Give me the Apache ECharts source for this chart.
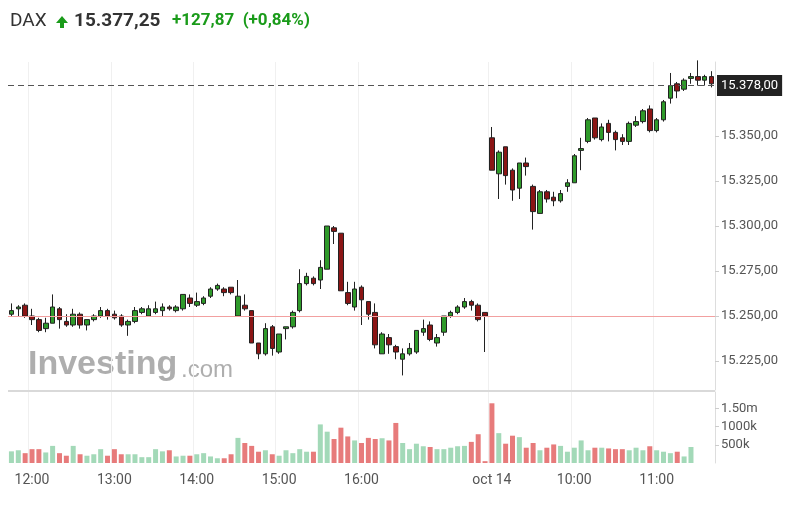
<!DOCTYPE html><html><head><meta charset="utf-8"><script src="https://cdn.jsdelivr.net/npm/echarts@6/dist/echarts.min.js"></script><style>body{margin:0}#c{width:794px;height:509px}</style></head><body><div id="c"></div><script>
// [open, close, low, high]
const ohlc=[[15251,15253,15250,15257],[15254,15255,15250,15256],[15256,15250,15249,15257],[15250,15248,15245,15254],[15248,15242,15241,15249],[15243,15246,15241,15249],[15246,15255,15246,15262],[15254,15248,15243,15255],[15247,15245,15244,15251],[15245,15251,15244,15254],
[15251,15245,15243,15252],[15245,15248,15242,15248],[15248,15250,15247,15251],[15250,15253,15249,15255],[15253,15250,15248,15254],[15251,15249,15248,15253],[15250,15245,15244,15251],[15245,15247,15239,15248],[15247,15253,15246,15255],[15252,15254,15251,15255],
[15250,15254,15250,15256],[15252,15254,15251,15258],[15253,15255,15250,15257],[15255,15254,15253,15256],[15253,15255,15252,15256],[15254,15262,15253,15262],[15260,15257,15255,15262],[15256,15258,15255,15263],[15257,15260,15256,15261],[15261,15265,15260,15266],
[15265,15267,15264,15268],[15265,15263,15261,15266],[15266,15263,15262,15266],[15250,15261,15250,15270],[15256,15254,15253,15262],[15253,15235,15235,15253],[15235,15229,15226,15235],[15229,15243,15228,15246],[15244,15232,15228,15245],[15230,15240,15229,15240],
[15243,15244,15237,15244],[15244,15252,15243,15253],[15253,15268,15252,15276],[15268,15272,15267,15274],[15271,15268,15267,15272],[15270,15277,15265,15281],[15276,15300,15276,15300],[15299,15297,15290,15300],[15296,15264,15264,15296],[15263,15257,15256,15269],
[15255,15265,15253,15269],[15266,15259,15245,15267],[15258,15251,15248,15258],[15252,15234,15232,15257],[15229,15240,15229,15241],[15238,15234,15229,15240],[15233,15230,15226,15234],[15226,15229,15217,15232],[15229,15232,15228,15235],[15230,15242,15229,15242],
[15241,15243,15239,15248],[15245,15237,15236,15247],[15235,15238,15233,15240],[15241,15250,15239,15250],[15250,15252,15249,15253],[15252,15255,15251,15256],[15255,15258,15254,15260],[15258,15256,15253,15259],[15256,15248,15247,15257],[15252,15250,15230,15252],
[15349,15331,15331,15355],[15329,15341,15315,15342],[15344,15328,15323,15344],[15331,15320,15314,15332],[15321,15335,15315,15335],[15335,15333,15328,15338],[15322,15308,15298,15323],[15307,15319,15307,15320],[15319,15315,15313,15320],[15316,15314,15311,15319],
[15314,15318,15313,15320],[15322,15324,15319,15326],[15324,15339,15324,15340],[15342,15343,15331,15349],[15347,15359,15346,15360],[15360,15349,15348,15360],[15348,15355,15347,15357],[15357,15352,15347,15359],[15352,15348,15342,15353],[15349,15347,15345,15351],
[15347,15357,15345,15358],[15356,15358,15355,15361],[15358,15364,15357,15365],[15365,15353,15352,15367],[15353,15359,15352,15360],[15359,15369,15358,15370],[15371,15378,15368,15385],[15379,15375,15371,15380],[15376,15381,15375,15382],[15382,15383,15379,15385],
[15383,15381,15378,15392],[15381,15383,15378,15384],[15383,15379,15377,15386]];
const volume=[320,350,270,380,380,290,470,270,200,470,240,200,240,380,200,380,240,240,240,160,160,380,320,350,180,200,200,240,270,180,130,130,240,690,550,470,
310,350,240,200,350,270,380,310,310,1060,860,660,970,730,620,550,690,660,680,620,1100,550,380,530,460,440,380,380,420,460,470,580,790,50,
1640,820,530,750,710,420,550,350,420,510,470,310,420,620,350,420,420,400,380,380,350,420,350,460,350,310,270,310,180,440,0,0,0];
const timeLabels={3:'12:00',15:'13:00',27:'14:00',39:'15:00',51:'16:00',70:'oct 14',82:'10:00',94:'11:00'};
const priceTicks=[15225,15250,15275,15300,15325,15350];
const volTicks=[500,1000,1500];
const lastPrice=15378, prevClose=15250;
const cats=ohlc.map((d,i)=>i);
const fmt=v=>v.toLocaleString('de-DE',{minimumFractionDigits:2,maximumFractionDigits:2});
const ch=echarts.init(document.getElementById('c'));
const xa=(gi,show)=>({type:'category',gridIndex:gi,data:cats,boundaryGap:true,axisLine:{show:false},axisTick:{show:false},
 axisLabel:{show:show,interval:(i)=>timeLabels[i]!==undefined,formatter:(v)=>timeLabels[v]||'',color:'#555',fontSize:14,fontFamily:'Roboto',margin:10},
 splitLine:{show:true,interval:(i)=>timeLabels[i]!==undefined,lineStyle:{color:'#f0f0f0'}}});
ch.setOption({animation:false,
 grid:[{left:8,right:79,top:62,height:328},{left:8,right:79,top:392,height:71}],
 xAxis:[xa(0,false),xa(1,true)],
 yAxis:[{type:'value',gridIndex:0,position:'right',min:15208.9,max:15391.1,axisLine:{show:true,lineStyle:{color:'#ddd'}},
   axisTick:{show:true,customValues:priceTicks,length:4,lineStyle:{color:'#ccc'}},axisLabel:{customValues:priceTicks,formatter:fmt,color:'#555',fontSize:13,fontFamily:'Roboto',margin:6},splitLine:{show:false}},
  {type:'value',gridIndex:1,position:'right',min:0,max:1950,axisLine:{show:true,lineStyle:{color:'#ddd'}},
   axisTick:{show:true,customValues:volTicks,length:4,lineStyle:{color:'#ccc'}},axisLabel:{customValues:volTicks,formatter:v=>v===1500?'1.50m':v+'k',color:'#555',fontSize:13,fontFamily:'Roboto',margin:6},splitLine:{show:false}}],
 graphic:[
  {type:'text',left:10,top:12,style:{text:'DAX',font:'19px Roboto',fill:'#333'}},
  {type:'polygon',shape:{points:[[62,16],[56,23],[60,23],[60,28],[64,28],[64,23],[68,23]]},style:{fill:'#1a9b1a'}},
  {type:'text',left:74,top:12,style:{text:'15.377,25',font:'bold 19px Roboto',fill:'#333'}},
  {type:'text',left:172,top:12,style:{text:'+127,87  (+0,84%)',font:'bold 17px Roboto',fill:'#1a9b1a'}},
  {type:'text',left:28,top:348,z:0,style:{text:'Investing',font:'bold 34px Arial',fill:'#9a9a9a',opacity:0.8}},
  {type:'text',left:181,top:358,z:0,style:{text:'.com',font:'24px Arial',fill:'#9a9a9a',opacity:0.8}},
  {type:'line',shape:{x1:8,y1:391,x2:715,y2:391},style:{stroke:'#ccc',lineWidth:1.5}}
 ],
 series:[{type:'candlestick',xAxisIndex:0,yAxisIndex:0,data:ohlc,barWidth:5,
   itemStyle:{color:'#2f9a2a',color0:'#8b1515',borderColor:'#222',borderColor0:'#222',borderWidth:1},
   markLine:{symbol:'none',silent:true,data:[
     {yAxis:lastPrice,lineStyle:{color:'#555',type:[6,4],width:1},label:{position:'end',formatter:fmt(lastPrice),backgroundColor:'#222',color:'#fff',fontSize:13,fontFamily:'Roboto',padding:[4,4],distance:2}},
     {yAxis:prevClose,lineStyle:{color:'#f2a0a0',type:'solid',width:1},label:{show:false}}]}},
  {type:'bar',xAxisIndex:1,yAxisIndex:1,barWidth:5,data:volume.map((v,i)=>({value:v,itemStyle:{color:ohlc[i][1]>=ohlc[i][0]?'#a3d9b8':'#e77b7b'}}))}]
});
</script></body></html>
